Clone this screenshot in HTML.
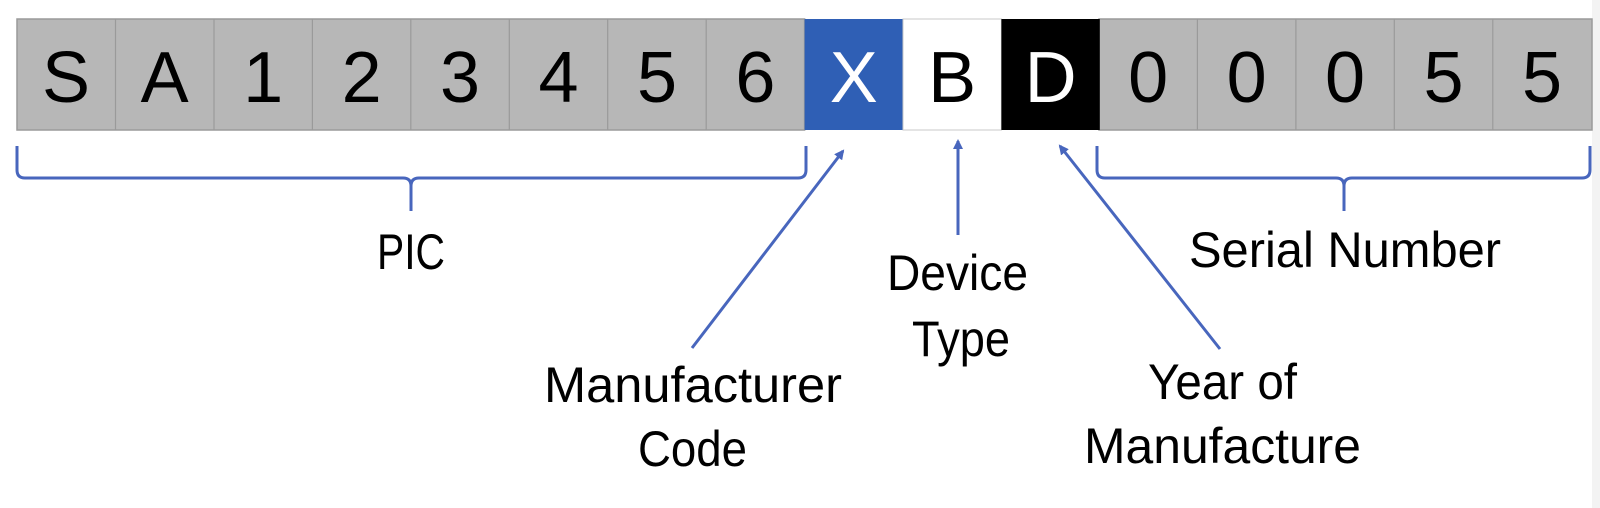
<!DOCTYPE html>
<html><head><meta charset="utf-8"><style>
html,body{margin:0;padding:0;background:#fff;}
svg{display:block;}
text{font-family:"Liberation Sans",sans-serif;}
</style></head><body>
<svg width="1600" height="508" viewBox="0 0 1600 508" xmlns="http://www.w3.org/2000/svg">
<defs>
<marker id="ah" markerWidth="10" markerHeight="10" refX="8" refY="5" orient="auto" markerUnits="userSpaceOnUse">
<path d="M0,0 L10,5 L0,10 Z" fill="#4866bd"/>
</marker>
</defs>
<rect x="1592" y="0" width="8" height="508" fill="#f3f3f3"/>
<g stroke="#9a9a9a" stroke-width="1.5">
<rect x="17" y="19" width="787.6" height="111" fill="#b7b7b7"/>
<rect x="1099" y="19" width="493" height="111" fill="#b7b7b7"/>
</g>
<g stroke="#9a9a9a" stroke-width="1.2">
<line x1="115.5" y1="19" x2="115.5" y2="130"/><line x1="214" y1="19" x2="214" y2="130"/>
<line x1="312.4" y1="19" x2="312.4" y2="130"/><line x1="410.8" y1="19" x2="410.8" y2="130"/>
<line x1="509.3" y1="19" x2="509.3" y2="130"/><line x1="607.7" y1="19" x2="607.7" y2="130"/>
<line x1="706.2" y1="19" x2="706.2" y2="130"/>
<line x1="1197.4" y1="19" x2="1197.4" y2="130"/><line x1="1295.9" y1="19" x2="1295.9" y2="130"/>
<line x1="1394.3" y1="19" x2="1394.3" y2="130"/><line x1="1492.8" y1="19" x2="1492.8" y2="130"/>
</g>
<rect x="804.6" y="19" width="98.4" height="111" fill="#2f5fb5"/>
<rect x="903" y="19" width="98.4" height="111" fill="#fff" stroke="#c8c8c8" stroke-width="1"/>
<rect x="1001.4" y="19" width="98.4" height="111" fill="#000"/>
<g font-size="72" text-anchor="middle" fill="#000">
<text x="66" y="102">S</text><text x="164.7" y="102">A</text><text x="263.2" y="102">1</text>
<text x="361.6" y="102">2</text><text x="460" y="102">3</text><text x="558.5" y="102">4</text>
<text x="657" y="102">5</text><text x="755.4" y="102">6</text>
<text x="853.8" y="102" fill="#fff">X</text><text x="952.2" y="102">B</text>
<text x="1050.6" y="102" fill="#fff">D</text>
<text x="1148.2" y="102">0</text><text x="1246.6" y="102">0</text><text x="1345" y="102">0</text>
<text x="1443.5" y="102">5</text><text x="1542" y="102">5</text>
</g>
<g fill="none" stroke="#4866bd" stroke-width="3">
<path d="M17,146 L17,170 Q17,178 25,178 L403,178 Q411,178 411,186 L411,211 M411,186 Q411,178 419,178 L798,178 Q806,178 806,170 L806,146"/>
<path d="M1097,146 L1097,170 Q1097,178 1105,178 L1336,178 Q1344,178 1344,186 L1344,211 M1344,186 Q1344,178 1352,178 L1582,178 Q1590,178 1590,170 L1590,146"/>
<line x1="692" y1="348" x2="843" y2="151" marker-end="url(#ah)"/>
<line x1="958" y1="235" x2="958" y2="141" marker-end="url(#ah)"/>
<line x1="1220" y1="349" x2="1060" y2="146" marker-end="url(#ah)"/>
</g>
<g font-size="50" fill="#000">
<text x="377" y="269" textLength="68" lengthAdjust="spacingAndGlyphs">PIC</text>
<text x="1189" y="267" textLength="312" lengthAdjust="spacingAndGlyphs">Serial Number</text>
<text x="887" y="290" textLength="141" lengthAdjust="spacingAndGlyphs">Device</text>
<text x="912" y="356" textLength="98" lengthAdjust="spacingAndGlyphs">Type</text>
<text x="544" y="402" textLength="298" lengthAdjust="spacingAndGlyphs">Manufacturer</text>
<text x="638" y="466" textLength="109" lengthAdjust="spacingAndGlyphs">Code</text>
<text x="1148" y="399" textLength="149" lengthAdjust="spacingAndGlyphs">Year of</text>
<text x="1084" y="463" textLength="277" lengthAdjust="spacingAndGlyphs">Manufacture</text>
</g>
</svg>
</body></html>
